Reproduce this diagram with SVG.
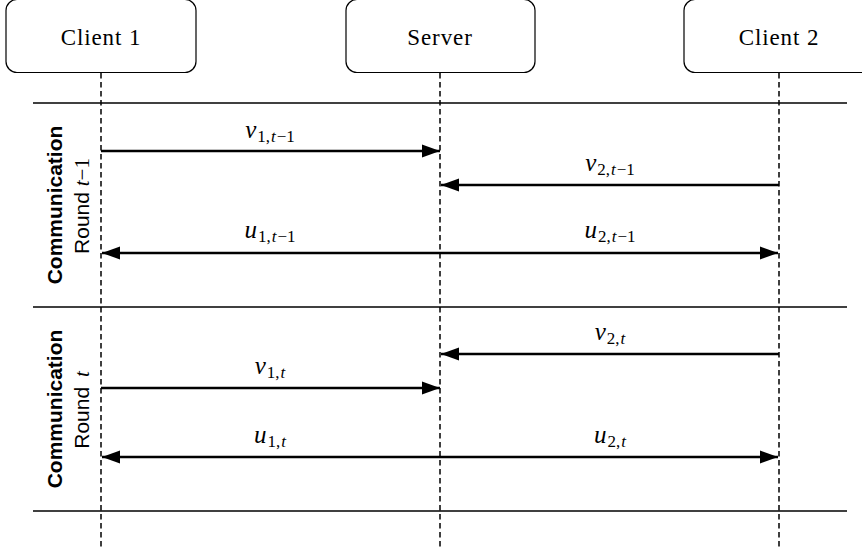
<svg xmlns="http://www.w3.org/2000/svg" width="862" height="550" viewBox="0 0 862 550">
  <defs>
    <marker id="head" viewBox="0 0 18 14" refX="18" refY="7" markerWidth="18" markerHeight="14" markerUnits="userSpaceOnUse" orient="auto-start-reverse">
      <path d="M0,0.5 L18,7 L0,13.5 Z" fill="#000"/>
    </marker>
  </defs>
  <style>
    .box { fill: #fff; stroke: #000; stroke-width: 1.2; }
    .name { font-size: 23px; letter-spacing: 0.9px; text-anchor: middle; fill: #000; }
    .life { stroke: #000; stroke-width: 1.5; stroke-dasharray: 5.5 3.5; fill: none; }
    .sep { stroke: #000; stroke-width: 1.5; }
    .msg { stroke: #000; stroke-width: 2.6; fill: none; }
    .math { font-size: 25px; font-style: italic; text-anchor: middle; fill: #000; }
    .sub { font-size: 17px; font-style: normal; }
    .subi { font-size: 17px; font-style: italic; }
    .round { font-size: 21px; fill: #000; text-anchor: middle; }
    .bold { font-weight: bold; }
  </style>

  <!-- participants -->
  <g font-family="Liberation Serif, DejaVu Serif, serif">
    <g id="client1">
      <rect class="box" x="6" y="-0.5" width="190" height="73" rx="11"/>
      <text class="name" x="101" y="45" font-family="Liberation Serif, serif">Client 1</text>
    </g>
    <g id="server">
      <rect class="box" x="346" y="-0.5" width="189" height="73" rx="11"/>
      <text class="name" x="440" y="45" font-family="Liberation Serif, serif">Server</text>
    </g>
    <g id="client2">
      <rect class="box" x="684" y="-0.5" width="190" height="73" rx="11"/>
      <text class="name" x="779" y="45" font-family="Liberation Serif, serif">Client 2</text>
    </g>
  </g>

  <!-- round separators -->
  <g id="separators">
    <line class="sep" x1="33" y1="103" x2="847" y2="103"/>
    <line class="sep" x1="33" y1="307" x2="847" y2="307"/>
    <line class="sep" x1="33" y1="511" x2="847" y2="511"/>
  </g>

  <!-- round labels -->
  <g id="round-prev">
    <text class="round bold" font-family="Liberation Sans, sans-serif" transform="translate(62,205) rotate(-90)">Communication</text>
    <text class="round" font-family="Liberation Sans, sans-serif" transform="translate(89,206) rotate(-90)">Round <tspan font-family="Liberation Serif, serif" font-style="italic">t</tspan><tspan font-family="Liberation Serif, serif">−1</tspan></text>
  </g>
  <g id="round-cur">
    <text class="round bold" font-family="Liberation Sans, sans-serif" transform="translate(62,409) rotate(-90)">Communication</text>
    <text class="round" font-family="Liberation Sans, sans-serif" transform="translate(89,410) rotate(-90)">Round <tspan font-family="Liberation Serif, serif" font-style="italic" dx="4">t</tspan></text>
  </g>

  <!-- lifelines and messages -->
  <g id="connectors">
    <line class="life" x1="101" y1="73" x2="101" y2="550"/>
    <line class="life" x1="440" y1="73" x2="440" y2="550"/>
    <line class="life" x1="779" y1="73" x2="779" y2="550"/>

    <line class="msg" x1="101" y1="151" x2="440" y2="151" marker-end="url(#head)"/>
    <line class="msg" x1="779" y1="185" x2="441" y2="185" marker-end="url(#head)"/>
    <line class="msg" x1="102" y1="253" x2="778" y2="253" marker-start="url(#head)" marker-end="url(#head)"/>

    <line class="msg" x1="779" y1="354" x2="441" y2="354" marker-end="url(#head)"/>
    <line class="msg" x1="101" y1="388" x2="440" y2="388" marker-end="url(#head)"/>
    <line class="msg" x1="102" y1="457" x2="778" y2="457" marker-start="url(#head)" marker-end="url(#head)"/>
  </g>

  <!-- message labels -->
  <g id="labels" font-family="Liberation Serif, serif">
    <text class="math" x="270" y="138">v<tspan class="sub" dy="4" dx="1">1,</tspan><tspan class="subi" dx="1">t</tspan><tspan class="sub" dx="1">−1</tspan></text>
    <text class="math" x="610" y="171">v<tspan class="sub" dy="4" dx="1">2,</tspan><tspan class="subi" dx="1">t</tspan><tspan class="sub" dx="1">−1</tspan></text>
    <text class="math" x="270" y="238">u<tspan class="sub" dy="4" dx="1">1,</tspan><tspan class="subi" dx="1">t</tspan><tspan class="sub" dx="1">−1</tspan></text>
    <text class="math" x="610" y="238">u<tspan class="sub" dy="4" dx="1">2,</tspan><tspan class="subi" dx="1">t</tspan><tspan class="sub" dx="1">−1</tspan></text>

    <text class="math" x="610" y="340">v<tspan class="sub" dy="4" dx="1">2,</tspan><tspan class="subi" dx="1">t</tspan></text>
    <text class="math" x="270" y="374">v<tspan class="sub" dy="4" dx="1">1,</tspan><tspan class="subi" dx="1">t</tspan></text>
    <text class="math" x="270" y="443">u<tspan class="sub" dy="4" dx="1">1,</tspan><tspan class="subi" dx="1">t</tspan></text>
    <text class="math" x="610" y="443">u<tspan class="sub" dy="4" dx="1">2,</tspan><tspan class="subi" dx="1">t</tspan></text>
  </g>
</svg>
